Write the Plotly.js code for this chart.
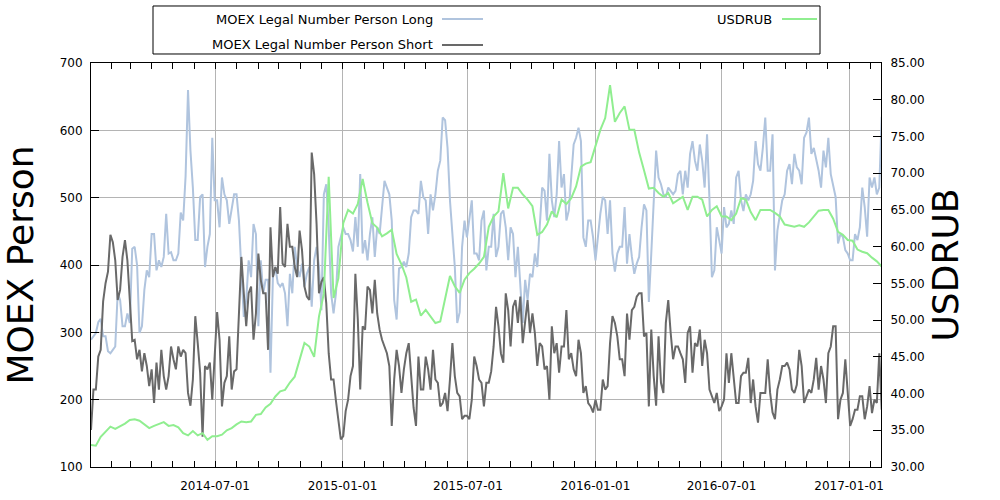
<!DOCTYPE html>
<html>
<head>
<meta charset="utf-8">
<script src="https://cdn.plot.ly/plotly-3.0.1.min.js"></script>
<style>
  html, body { margin: 0; padding: 0; background: #ffffff; }
  #chart { width: 1000px; height: 500px; }
</style>
</head>
<body>
<div id="chart"></div>
<script>
// ---- Data ----
// readings every week starting 2014-01-03 (Fridays), plus mid-week readings (3.5 days later)
const startDate = '2014-01-03';

const longWeekly = [
  289, 299, 320, 294, 269, 279, 348, 309, 314, 427,
  299, 363, 382, 446, 407, 412, 417, 407, 417, 466,
  660, 515, 437, 505, 427, 589, 496, 530, 496, 481,
  505, 392, 348, 382, 446, 407, 378, 240, 397, 368,
  358, 387, 427, 382, 368, 397, 407, 397, 505, 456,
  328, 427, 456, 446, 420, 427, 417, 407, 471, 456,
  486, 515, 466, 319, 397, 397, 471, 481, 525, 496,
  505, 505, 555, 615, 496, 397, 330, 466, 471, 417,
  407, 481, 427, 476, 427, 481, 407, 446, 427, 314,
  348, 382, 397, 515, 466, 496, 505, 515, 466, 525,
  589, 584, 427, 466, 407, 476, 496, 496, 390, 427,
  486, 446, 387, 412, 490, 345, 505, 530, 505, 515,
  505, 535, 505, 515, 584, 540, 555, 594, 382, 456,
  417, 456, 481, 530, 496, 505, 505, 584, 540, 619,
  540, 392, 476, 505, 550, 565, 540, 589, 619, 574,
  540, 570, 589, 515, 432, 442, 417, 407, 437, 515,
  442, 515, 505, 620
];
const longMidweek = [
  294, 315, 294, 272, 274, 358, 309, 328, 424, 400,
  309, 392, 446, 392, 397, 476, 419, 407, 478, 532,
  570, 437, 501, 397, 446, 496, 456, 505, 461, 505,
  466, 323, 407, 461, 309, 358, 378, 382, 373, 373,
  309, 358, 397, 402, 387, 338, 427, 333, 520, 358,
  358, 441, 446, 437, 471, 535, 437, 446, 412, 446,
  525, 505, 348, 395, 405, 417, 481, 476, 501, 446,
  481, 540, 619, 574, 441, 314, 427, 441, 496, 417,
  466, 392, 427, 412, 476, 456, 456, 382, 373, 378,
  387, 417, 456, 510, 565, 471, 584, 535, 481, 579,
  604, 441, 466, 441, 446, 501, 446, 417, 417, 427,
  402, 412, 402, 456, 481, 417, 570, 520, 501, 510,
  510, 540, 540, 565, 555, 579, 515, 496, 392, 437,
  486, 461, 461, 540, 480, 496, 525, 550, 574, 540,
  594, 451, 496, 540, 520, 545, 520, 597, 565, 555,
  515, 545, 535, 501, 446, 422, 407, 446, 456, 486,
  530, 530, 515
];

const shortWeekly = [
  155, 215, 274, 373, 445, 407, 363, 437, 348, 289,
  274, 269, 220, 195, 215, 235, 235, 260, 279, 274,
  210, 230, 284, 145, 245, 200, 330, 190, 235, 215,
  245, 412, 309, 368, 328, 378, 358, 456, 397, 486,
  397, 427, 397, 451, 368, 348, 535, 358, 382, 269,
  230, 172, 146, 200, 250, 319, 309, 368, 328, 328,
  289, 269, 161, 274, 210, 269, 230, 161, 215, 264,
  215, 230, 190, 210, 230, 235, 205, 176, 171, 264,
  230, 190, 225, 279, 309, 255, 333, 338, 314, 284,
  348, 328, 250, 279, 250, 309, 284, 279, 333, 269,
  235, 269, 220, 190, 200, 185, 215, 284, 314, 260,
  235, 289, 338, 358, 294, 190, 235, 294, 210, 348,
  260, 279, 260, 299, 240, 279, 250, 269, 205, 210,
  190, 269, 269, 195, 235, 240, 195, 190, 210, 210,
  210, 171, 230, 250, 245, 210, 274, 195, 215, 230,
  215, 230, 269, 309, 171, 210, 210, 171, 185, 205,
  190, 180, 195, 185
];
const shortMidweek = [
  215, 264, 346, 390, 434, 348, 412, 407, 287, 260,
  242, 250, 245, 255, 274, 215, 279, 245, 264, 269,
  191, 324, 240, 250, 255, 260, 289, 225, 294, 242,
  328, 358, 358, 289, 417, 358, 274, 382, 387, 402,
  461, 427, 382, 422, 353, 567, 461, 375, 343, 230,
  198, 141, 183, 235, 387, 215, 304, 363, 378, 304,
  279, 250, 230, 250, 245, 284, 188, 264, 215, 245,
  274, 225, 195, 183, 284, 210, 171, 176, 200, 250,
  225, 225, 242, 338, 269, 358, 279, 348, 353, 319,
  299, 299, 284, 245, 200, 269, 240, 279, 260, 245,
  289, 210, 195, 181, 185, 230, 220, 324, 294, 260,
  328, 333, 353, 358, 299, 304, 191, 225, 314, 299,
  279, 269, 225, 309, 284, 304, 289, 215, 195, 183,
  200, 225, 230, 195, 240, 262, 230, 166, 210, 260,
  181, 215, 250, 255, 215, 222, 250, 205, 210, 262,
  250, 195, 279, 309, 200, 260, 161, 185, 205, 171,
  220, 200, 269
];

const usdRubWeekly = [
  33.0, 32.9, 34.1, 34.8, 35.5, 35.2, 35.5, 35.9, 36.4, 36.5,
  36.3, 35.8, 35.3, 35.6, 35.9, 36.1, 35.6, 35.7, 35.4, 34.6,
  34.3, 34.9, 34.3, 34.6, 33.7, 34.2, 34.2, 34.4, 35.0, 35.3,
  35.8, 36.2, 36.1, 36.2, 37.1, 37.2, 38.1, 38.6, 39.6, 40.3,
  40.5, 41.5, 42.3, 44.5, 46.9, 46.4, 45.0, 50.5, 53.6, 69.5,
  53.0, 55.7, 63.2, 65.0, 64.5, 65.8, 69.2, 66.0, 63.2, 62.6,
  61.4, 61.8, 62.3, 59.0, 57.6, 55.8, 52.5, 52.8, 50.6, 51.4,
  50.5, 49.6, 49.8, 52.8, 56.0, 54.6, 53.7, 55.5, 56.4, 57.0,
  57.7, 58.6, 62.7, 64.1, 64.8, 70.0, 65.2, 68.0, 68.0, 67.1,
  66.4, 65.5, 61.6, 62.0, 63.0, 64.8, 64.0, 66.4, 65.8, 66.6,
  68.2, 70.9, 71.3, 71.5, 73.6, 75.9, 77.5, 82.0, 77.0, 78.2,
  79.1, 75.9, 75.9, 72.8, 70.4, 67.9, 68.0, 67.3, 66.8, 67.3,
  65.9, 66.4, 66.8, 65.0, 66.8, 66.8, 66.4, 64.1, 65.0, 65.5,
  64.1, 64.1, 63.6, 64.5, 66.6, 66.4, 64.7, 63.6, 65.0, 65.0,
  65.0, 64.6, 64.1, 63.0, 62.9, 62.7, 62.9, 62.7, 63.3, 64.1,
  64.9, 65.0, 65.0, 63.8, 62.0, 61.6, 60.9, 60.8, 59.6, 59.3,
  59.1, 58.5, 58.0, 57.3
];

const seriesNames = ['MOEX Legal Number Person Long', 'MOEX Legal Number Person Short', 'USDRUB'];
const seriesColors = ['#b0c4de', '#696969', '#90ee90'];

// ---- helpers: dates for the readings ----
const DAY = 86400000;
const t0 = Date.parse(startDate + 'T00:00:00Z');
function isoAt(ms) { return new Date(ms).toISOString().slice(0, 16).replace('T', ' '); }
function weeklyDates(n) {
  const out = [];
  for (let i = 0; i < n; i++) out.push(isoAt(t0 + i * 7 * DAY));
  return out;
}
// interleave weekly readings with the mid-week readings taken 3.5 days later
function interleave(weekly, mid) {
  const xs = [], ys = [];
  for (let i = 0; i < weekly.length; i++) {
    xs.push(isoAt(t0 + i * 7 * DAY)); ys.push(weekly[i]);
    if (i < mid.length) { xs.push(isoAt(t0 + (i * 7 + 3.5) * DAY)); ys.push(mid[i]); }
  }
  return { x: xs, y: ys };
}
const longSeries = interleave(longWeekly, longMidweek);
const shortSeries = interleave(shortWeekly, shortMidweek);
const rubDates = weeklyDates(usdRubWeekly.length);

const FONT = 'DejaVu Sans, Verdana, sans-serif';

const traces = [
  { x: longSeries.x, y: longSeries.y, name: seriesNames[0], type: 'scatter', mode: 'lines',
    line: { color: seriesColors[0], width: 2 }, yaxis: 'y', showlegend: false, hoverinfo: 'skip' },
  { x: shortSeries.x, y: shortSeries.y, name: seriesNames[1], type: 'scatter', mode: 'lines',
    line: { color: seriesColors[1], width: 2 }, yaxis: 'y', showlegend: false, hoverinfo: 'skip' },
  { x: rubDates, y: usdRubWeekly, name: seriesNames[2], type: 'scatter', mode: 'lines',
    line: { color: seriesColors[2], width: 2 }, yaxis: 'y2', showlegend: false, hoverinfo: 'skip' }
];

// custom legend (line sample to the right of the text, like the original)
const legendBox = { x0: 0.0785, x1: 0.9228, y0: 1.0223, y1: 1.1411 };
const legendRows = [1.1089, 1.0446];
const shapes = [
  { type: 'rect', xref: 'paper', yref: 'paper', x0: legendBox.x0, x1: legendBox.x1, y0: legendBox.y0, y1: legendBox.y1,
    line: { color: '#000000', width: 1 }, fillcolor: '#ffffff', layer: 'above' },
  { type: 'line', xref: 'paper', yref: 'paper', x0: 0.4443, x1: 0.4962, y0: legendRows[0], y1: legendRows[0],
    line: { color: seriesColors[0], width: 2 } },
  { type: 'line', xref: 'paper', yref: 'paper', x0: 0.4443, x1: 0.4962, y0: legendRows[1], y1: legendRows[1],
    line: { color: seriesColors[1], width: 2 } },
  { type: 'line', xref: 'paper', yref: 'paper', x0: 0.8747, x1: 0.9190, y0: legendRows[0], y1: legendRows[0],
    line: { color: seriesColors[2], width: 2 } }
];
const annotations = [
  { xref: 'paper', yref: 'paper', x: 0.4354, y: legendRows[0], xanchor: 'right', yanchor: 'middle', showarrow: false,
    text: seriesNames[0], font: { family: FONT, size: 13, color: '#000000' } },
  { xref: 'paper', yref: 'paper', x: 0.4354, y: legendRows[1], xanchor: 'right', yanchor: 'middle', showarrow: false,
    text: seriesNames[1], font: { family: FONT, size: 13, color: '#000000' } },
  { xref: 'paper', yref: 'paper', x: 0.8646, y: legendRows[0], xanchor: 'right', yanchor: 'middle', showarrow: false,
    text: seriesNames[2], font: { family: FONT, size: 13, color: '#000000' } }
];

const layout = {
  width: 1000, height: 500,
  margin: { l: 91, r: 119, t: 63, b: 33, pad: 0 },
  paper_bgcolor: '#ffffff', plot_bgcolor: '#ffffff',
  font: { family: FONT, size: 12, color: '#000000' },
  showlegend: false,
  xaxis: {
    type: 'date',
    range: ['2014-01-03', '2017-02-16'],
    tick0: '2014-01-01', dtick: 'M6', tickformat: '%Y-%m-%d',
    ticks: 'inside', ticklen: 6, tickcolor: '#000000',
    showgrid: true, gridcolor: '#b4b4b4', gridwidth: 1,
    showline: true, linecolor: '#000000', linewidth: 1, mirror: 'ticks',
    zeroline: false,
    ticklabelstandoff: 8,
    tickfont: { family: FONT, size: 12, color: '#000000' },
    minor: { tick0: '2014-01-01', dtick: 'M1', ticks: 'inside', ticklen: 6, tickcolor: '#000000', showgrid: false }
  },
  yaxis: {
    range: [100, 700], dtick: 100,
    ticks: 'inside', ticklen: 8, tickcolor: '#000000',
    showgrid: true, gridcolor: '#b4b4b4', gridwidth: 1,
    showline: true, linecolor: '#000000', linewidth: 1,
    zeroline: false,
    ticklabelstandoff: 5,
    tickfont: { family: FONT, size: 12, color: '#000000' },
    title: { text: 'MOEX Person', standoff: 22, font: { family: FONT, size: 36, color: '#000000' } }
  },
  yaxis2: {
    overlaying: 'y', side: 'right',
    range: [30, 85], dtick: 5, tickformat: '.2f',
    ticks: 'inside', ticklen: 8, tickcolor: '#000000',
    showgrid: false, showline: true, linecolor: '#000000', linewidth: 1,
    zeroline: false,
    ticklabelstandoff: 6,
    tickfont: { family: FONT, size: 12, color: '#000000' },
    title: { text: 'USDRUB', standoff: 0, font: { family: FONT, size: 36, color: '#000000' } }
  },
  shapes: shapes,
  annotations: annotations
};

Plotly.newPlot('chart', traces, layout, { displayModeBar: false, staticPlot: true });
</script>
</body>
</html>
